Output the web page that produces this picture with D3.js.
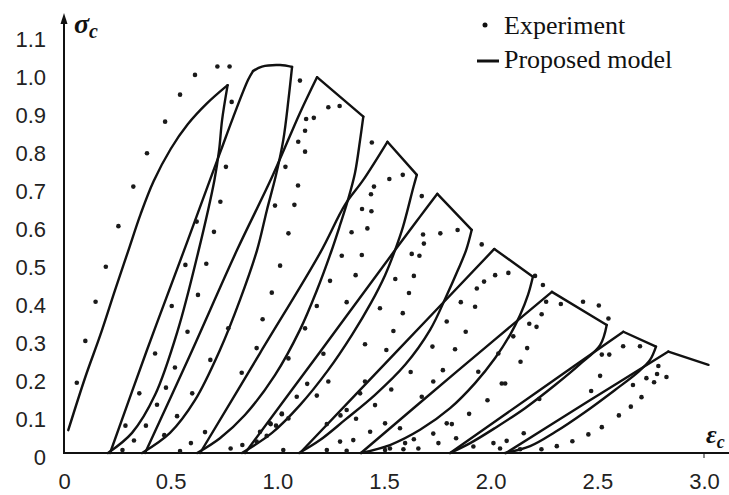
<!DOCTYPE html>
<html>
<head>
<meta charset="utf-8">
<script src="https://cdn.jsdelivr.net/npm/d3@7"></script>
<style>
  body { margin: 0; background: #fff; }
  svg { display: block; }
</style>
</head>
<body>
<script>
let width = 729;
let height = 495;

const xTicks = [0, 0.5, 1.0, 1.5, 2.0, 2.5, 3.0];
const yTicks = [0, 0.1, 0.2, 0.3, 0.4, 0.5, 0.6, 0.7, 0.8, 0.9, 1.0, 1.1];
const legendLabels = ["Experiment", "Proposed model"];

// experiment points [strain, stress]
const experiment = [
  [0.06,0.185],[0.10,0.295],[0.148,0.398],[0.196,0.49],[0.255,0.597],[0.325,0.701],[0.389,0.789],[0.474,0.872],
  [0.544,0.943],[0.614,0.995],[0.719,1.017],[0.776,1.017],[0.786,0.924],[0.759,0.753],[0.733,0.661],[0.703,0.582],[0.622,0.609],
  [0.989,0.651],[1.038,0.753],[1.106,0.98],[1.239,0.91],[1.292,0.913],[1.135,0.879],[1.171,0.882],[1.13,0.848],[1.098,0.819],
  [1.13,0.793],[1.097,0.704],[1.08,0.653],[1.052,0.578],
  [1.443,0.817],[1.525,0.721],[1.588,0.732],[1.453,0.701],[1.439,0.681],[1.397,0.642],[1.441,0.636],[1.348,0.581],[1.422,0.591],
  [1.677,0.676],[1.683,0.575],[1.764,0.578],[1.845,0.587],[1.687,0.551],[1.958,0.549],[2.083,0.474],[2.245,0.442],
  [0.569,0.495],[0.667,0.498],[1.013,0.493],[0.505,0.387],[0.628,0.416],[0.974,0.422],[0.931,0.352],[0.579,0.319],
  [0.427,0.262],[0.52,0.225],[0.686,0.245],[0.77,0.328],[0.903,0.276],[0.353,0.157],[0.478,0.172],[0.601,0.157],
  [0.436,0.127],[0.833,0.211],[0.288,0.072],[0.384,0.072],[0.53,0.097],[0.328,0.033],[0.47,0.047],[0.274,0.008],
  [0.544,0.005],[0.595,0.026],[0.661,0.055],[0.781,0.012],[0.836,0.021],[0.903,0.03],[0.95,0.045],[0.994,0.072],
  [1.021,0.102],[0.969,0.076],[1.028,0.008],
  [1.302,0.519],[1.396,0.521],[1.63,0.524],[1.666,0.519],[1.247,0.453],[1.367,0.468],[1.553,0.458],[1.64,0.466],
  [1.617,0.421],[1.325,0.397],[1.185,0.387],[1.481,0.381],[1.588,0.368],[1.544,0.321],[1.13,0.328],[1.411,0.286],
  [1.727,0.28],[1.511,0.271],[1.216,0.261],[1.052,0.249],[1.625,0.213],[1.776,0.218],[1.239,0.188],[1.14,0.182],
  [1.411,0.188],[1.534,0.167],[1.731,0.188],[1.388,0.157],[1.091,0.148],[1.185,0.151],[1.677,0.148],[1.021,0.104],
  [1.458,0.126],[1.325,0.113],[1.296,0.099],[0.966,0.078],[1.052,0.091],[0.919,0.056],[1.505,0.078],[1.575,0.065],
  [1.369,0.09],[1.232,0.076],[1.435,0.056],[1.731,0.051],[1.794,0.078],[1.64,0.036],[1.755,0.026],[1.294,0.03],
  [1.356,0.034],[1.232,0.008],[1.325,0.006],[1.505,0.008],[1.591,0.01],[1.661,0.012],
  [1.927,0.385],[1.86,0.397],[1.935,0.433],[2.021,0.468],[1.969,0.451],[1.794,0.346],[1.883,0.319],[1.833,0.273],
  [2.036,0.262],[1.985,0.139],[2.052,0.183],[1.899,0.103],[1.818,0.076],[1.528,0.012],[1.599,0.026],[1.838,0.039],
  [1.919,0.017],[2.013,0.026],[2.044,0.012],
  [2.208,0.466],[2.26,0.398],[2.239,0.365],[2.181,0.34],[2.215,0.332],[2.433,0.398],[2.507,0.388],[2.552,0.354],
  [2.329,0.392],[2.106,0.307],[2.171,0.276],[2.14,0.24],[2.068,0.183],[2.521,0.259],[2.556,0.259],[2.621,0.281],
  [2.70,0.281],[1.942,0.214],[2.513,0.203],[2.73,0.197],[2.667,0.179],[2.786,0.229],[2.78,0.208],[2.766,0.186],
  [2.824,0.2],[2.471,0.163],[2.707,0.147],[2.657,0.122],[2.228,0.142],[2.601,0.099],[2.521,0.068],[2.458,0.049],
  [2.383,0.031],[2.31,0.018],[2.238,0.01],[2.138,0.01],[2.155,0.052],[2.075,0.032]
];

// model: envelope pieces
const envelope = [
  [[0.02,0.06],[0.1,0.2],[0.17,0.31],[0.24,0.43],[0.30,0.53],[0.36,0.63],[0.42,0.715],[0.5,0.8],[0.58,0.865],[0.67,0.92],[0.767,0.968]],
  [[0.886,1.005],[0.928,1.017],[1.013,1.021],[1.069,1.016]],
  [[1.186,0.989],[1.403,0.885]],
  [[1.516,0.819],[1.654,0.732]],
  [[1.75,0.682],[1.911,0.587]],
  [[2.017,0.537],[2.198,0.464]],
  [[2.287,0.424],[2.544,0.337]],
  [[2.622,0.319],[2.775,0.28]],
  [[2.833,0.267],[3.021,0.232]]
];

// model: unloading branches
const unloading = [
  [[0.767,0.968],[0.741,0.876],[0.727,0.797],[0.705,0.718],[0.628,0.526],[0.534,0.324],[0.427,0.153],[0.319,0.053],[0.206,0]],
  [[1.069,1.016],[1.052,0.929],[1.028,0.824],[0.994,0.732],[0.951,0.639],[0.905,0.534],[0.825,0.403],[0.731,0.271],[0.614,0.139],[0.497,0.053],[0.366,0]],
  [[1.403,0.885],[1.388,0.824],[1.364,0.737],[1.331,0.666],[1.294,0.6],[1.252,0.529],[1.186,0.429],[1.106,0.324],[0.989,0.205],[0.848,0.1],[0.731,0.039],[0.624,0]],
  [[1.654,0.732],[1.638,0.7],[1.589,0.595],[1.552,0.534],[1.505,0.468],[1.439,0.395],[1.35,0.311],[1.238,0.218],[1.106,0.126],[0.975,0.053],[0.834,0]],
  [[1.911,0.587],[1.885,0.534],[1.847,0.482],[1.791,0.411],[1.716,0.324],[1.599,0.232],[1.458,0.153],[1.317,0.087],[1.2,0.034],[1.102,0]],
  [[2.198,0.464],[2.175,0.416],[2.138,0.363],[2.091,0.311],[2.021,0.25],[1.927,0.184],[1.81,0.118],[1.669,0.061],[1.528,0.021],[1.392,0]],
  [[2.544,0.337],[2.513,0.284],[2.419,0.234],[2.302,0.179],[2.161,0.118],[2.021,0.066],[1.904,0.026],[1.81,0]],
  [[2.775,0.28],[2.747,0.245],[2.691,0.213],[2.583,0.166],[2.443,0.108],[2.302,0.055],[2.185,0.018],[2.068,0]]
];

// model: reloading branches
const reloading = [
  [[0.216,0],[0.389,0.271],[0.558,0.526],[0.684,0.718],[0.736,0.797],[0.792,0.882],[0.863,0.982],[0.886,1.005]],
  [[0.38,0],[0.591,0.258],[0.811,0.534],[0.975,0.726],[1.106,0.895],[1.186,0.989]],
  [[0.638,0],[0.919,0.263],[1.2,0.526],[1.317,0.653],[1.402,0.718],[1.516,0.819]],
  [[0.849,0],[1.2,0.266],[1.552,0.534],[1.669,0.622],[1.75,0.682]],
  [[1.106,0],[1.561,0.268],[2.017,0.537]],
  [[1.392,0],[1.838,0.213],[2.287,0.424]],
  [[1.81,0],[2.216,0.16],[2.622,0.319]],
  [[2.072,0],[2.452,0.134],[2.833,0.267]]
];

let x = d3.scaleLinear().domain([0, 3]).range([64, 704]);
let y = d3.scaleLinear().domain([0, 1.1]).range([453, 35]);

const svg = d3.select('body').append('svg')
  .attr('width', width)
  .attr('height', height)
  .style('background', '#fff');

// axes (labels only, lines drawn by hand below)
let yAxis = svg.append('g')
  .attr('transform', `translate(${x(0)},0)`)
  .call(d3.axisLeft(y).tickValues(yTicks).tickSize(0).tickPadding(18)
    .tickFormat(d => d === 0 ? '0' : d.toFixed(1)));
yAxis.select('.domain').remove();
yAxis.selectAll('text')
  .attr('dy', '0.5em')
  .style('font', '22px "Liberation Sans", Arial, sans-serif')
  .attr('fill', '#222');

let xAxis = svg.append('g')
  .attr('transform', `translate(0,${y(0)})`)
  .call(d3.axisBottom(x).tickValues(xTicks).tickSize(0).tickPadding(20)
    .tickFormat(d => d === 0 ? '0' : d.toFixed(1)));
xAxis.select('.domain').remove();
xAxis.selectAll('text')
  .style('font', '22px "Liberation Sans", Arial, sans-serif')
  .attr('fill', '#222');

svg.append('line')
  .attr('x1', x(0)).attr('x2', width)
  .attr('y1', y(0)).attr('y2', y(0))
  .attr('stroke', '#111').attr('stroke-width', 2);

svg.append('line')
  .attr('x1', x(3)).attr('x2', x(3))
  .attr('y1', y(0)).attr('y2', y(0) + 5)
  .attr('stroke', '#111').attr('stroke-width', 1);

svg.append('line')
  .attr('x1', x(0)).attr('x2', x(0))
  .attr('y1', y(0) + 1).attr('y2', 20)
  .attr('stroke', '#111').attr('stroke-width', 2);

svg.append('path')
  .attr('d', `M${x(0)},13L${x(0) - 3.5},24L${x(0) + 3.5},24Z`)
  .attr('fill', '#111');

// axis titles
let sig = svg.append('text')
  .attr('x', 74).attr('y', 33)
  .style('font', 'italic bold 28px "Liberation Serif", "DejaVu Serif", serif')
  .attr('fill', '#111');
sig.append('tspan').text('σ');
sig.append('tspan').attr('dy', 5).style('font-size', '20px').text('c');

let eps = svg.append('text')
  .attr('x', 706).attr('y', 443)
  .style('font', 'italic bold 26px "Liberation Serif", "DejaVu Serif", serif')
  .attr('fill', '#111');
eps.append('tspan').text('ε');
eps.append('tspan').attr('dy', 5).style('font-size', '18px').text('c');

// model curves
const line = d3.line()
  .x(d => x(d[0]))
  .y(d => y(d[1]))
  .curve(d3.curveCatmullRom.alpha(0.5));

svg.append('g')
  .attr('fill', 'none')
  .attr('stroke', '#111')
  .attr('stroke-width', 2.4)
  .attr('stroke-linecap', 'round')
  .attr('stroke-linejoin', 'round')
  .selectAll('path')
  .data([...envelope, ...unloading, ...reloading])
  .join('path')
  .attr('d', line);

// experiment dots
svg.append('g')
  .attr('fill', '#1a1a1a')
  .selectAll('circle')
  .data(experiment)
  .join('circle')
  .attr('cx', d => x(d[0]))
  .attr('cy', d => y(d[1]))
  .attr('r', 2.3);

// legend
let legend = svg.append('g')
  .style('font', '26px "Liberation Serif", "Times New Roman", serif')
  .attr('fill', '#111');

legend.append('circle')
  .attr('cx', 485).attr('cy', 25).attr('r', 2.5);
legend.append('line')
  .attr('x1', 477).attr('x2', 499)
  .attr('y1', 61).attr('y2', 61)
  .attr('stroke', '#111').attr('stroke-width', 3);

legend.selectAll('text')
  .data(legendLabels)
  .join('text')
  .attr('x', 504)
  .attr('y', (d, i) => 34 + i * 34)
  .text(d => d);
</script>
</body>
</html>
